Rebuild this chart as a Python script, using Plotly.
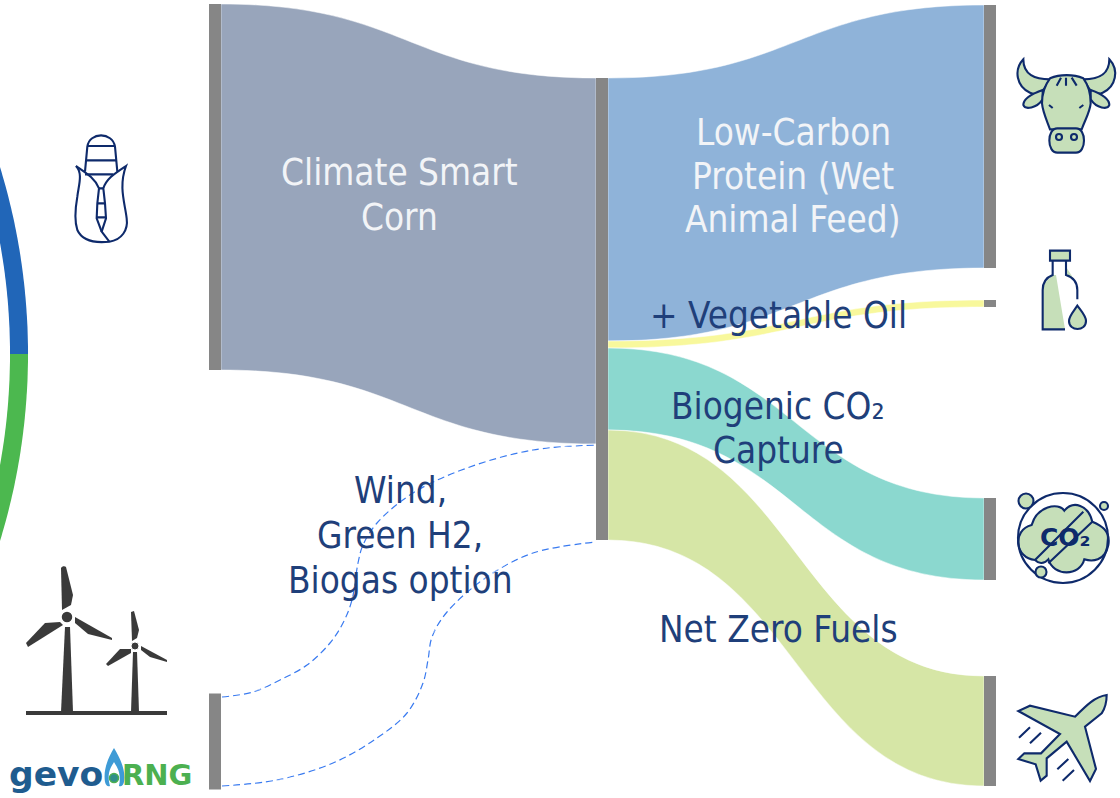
import re
import numpy as np
import plotly.graph_objects as go

WIDTH, HEIGHT = 1120, 798

# Flow network: feedstocks -> plant -> products
node_names = ["Climate Smart Corn", "Wind, Green H2, Biogas", "Plant",
              "Low-Carbon Protein", "Vegetable Oil", "Biogenic CO2", "Net Zero Fuels"]
node_x_px = [215, 215, 602, 990, 990, 990, 990]
node_y_px = [187, 741.5, 309, 136.5, 303.5, 539, 731]
link_source = [0, 1, 2, 2, 2, 2]
link_target = [2, 2, 3, 4, 5, 6]
link_value = [366, 96, 263, 7, 82, 110]
link_colors = ["#98A5BB", "rgba(0,0,0,0)", "#8FB3D9", "#F8F89C", "#8BD8CF", "#D6E6A6"]

# Dashed outline of the optional renewable-energy flow
wind_upper_x = [222, 253, 280, 307, 330, 343, 352, 358, 363, 377, 413, 467, 533, 596]
wind_upper_y = [697, 692, 680, 665, 643, 623, 600, 563, 545, 523, 493, 468, 450, 445]
wind_lower_x = [222, 277, 333, 377, 407, 423, 428, 432, 447, 487, 533, 596]
wind_lower_y = [786, 780, 763, 738, 713, 683, 660, 637, 612, 577, 553, 542]

NAVY = "#0E2A6B"
TEXT_NAVY = "#1F3F7A"
LEAF = "#C6DFB9"
FONT = "DejaVu Sans Condensed, Tahoma, Verdana, sans-serif"


def place(d, ox, oy, s=3.0):
    """Shift an SVG path drawn at s times size to its place on the page."""
    idx = [0]

    def repl(m):
        v = float(m.group(0))
        i = idx[0]
        idx[0] += 1
        return f"{(v / s + (oy if i % 2 else ox)):.2f}"

    return re.sub(r"-?\d+\.?\d*", repl, d)


def icon(d, ox, oy, fill=None, line=NAVY, width=2.1, s=3.0):
    return dict(type="path", path=place(d, ox, oy, s), xref="x", yref="y",
                fillcolor=fill if fill else "rgba(0,0,0,0)",
                line=dict(color=line, width=width) if line else dict(width=0),
                layer="above")


def circle(cx, cy, r, fill=None, line=NAVY, width=2.1):
    return dict(type="circle", x0=cx - r, x1=cx + r, y0=cy - r, y1=cy + r,
                xref="x", yref="y", fillcolor=fill if fill else "rgba(0,0,0,0)",
                line=dict(color=line, width=width) if line else dict(width=0),
                layer="above")


def ring_segment(a0, a1, cx=-610, cy=354, r_out=638, r_in=620, n=60):
    a = np.radians(np.linspace(a0, a1, n))
    xo, yo = cx + r_out * np.cos(a), cy + r_out * np.sin(a)
    xi, yi = cx + r_in * np.cos(a[::-1]), cy + r_in * np.sin(a[::-1])
    pts = list(zip(np.r_[xo, xi], np.r_[yo, yi]))
    return "M" + " L".join(f"{x:.1f},{y:.1f}" for x, y in pts) + " Z"


shapes = []

# Part of the large ring on the left edge
for a0, a1, col in [(-20, 0, "#2166B8"), (0, 20, "#4CB84F")]:
    shapes.append(dict(type="path", path=ring_segment(a0, a1), xref="x", yref="y",
                       fillcolor=col, line=dict(width=0), layer="below"))

# Corn cob
shapes += [
    icon("M255,245 L262,170 C268,125 338,125 345,170 L352,245", 0, 90),
    icon("M262,168 L343,168 M258,211 L350,211 M255,253 L340,253", 0, 90),
    icon("M228,228 C250,250 235,290 232,320 C225,360 222,390 232,420 C250,460 300,458 328,455 "
         "C365,450 385,420 380,385 C375,340 355,290 378,228 C345,250 320,265 310,295 "
         "L315,340 L318,385 L305,425 L328,455", 0, 90),
    icon("M228,228 C260,250 285,265 297,295 L292,340 L290,385 L305,425", 0, 90),
    icon("M297,295 L310,295 M292,340 L315,340 M290,382 L318,382", 0, 90),
]

# Wind turbines
DARK = "#3A3A3A"
for d in [
    "M61,568 C62,566 65,566 66,567 L73,595 L71,605 L62,610 Z",
    "M60,622 L45,623 L26,643 L28,647 L63,625 Z",
    "M75,617 L112,638 L112,640 L88,634 L75,623 Z",
    "M65,627 L70,627 L73,712 L61,712 Z",
    "M131,612 L134,611 L139,630 L137,638 L132,641 Z",
    "M131,649 L120,649 L106,664 L108,666 L131,653 Z",
    "M141,646 L167,660 L167,662 L150,657 L141,650 Z",
    "M133,652 L137,652 L139,712 L131,712 Z",
    "M26,711 L167,711 L167,715 L26,715 Z",
]:
    shapes.append(icon(d, 0, 0, fill=DARK, line=None, s=1.0))
shapes += [circle(67, 617, 6, fill=DARK, line="white", width=1.5),
           circle(135, 646, 4, fill=DARK, line="white", width=1)]

# Flame of the RNG mark
shapes += [
    icon("M114,748 C108,758 103,770 105,782 C106,786 108,787 110,786 C106,772 112,766 114,762 "
         "C116,766 122,772 119,786 C121,787 123,786 124,782 C126,770 120,758 114,748 Z",
         0, 0, fill="#3E9BD6", line=None, s=1.0),
    circle(114, 778, 4.5, fill="#2F8F8A", line="#4CB050", width=1.5),
]

# Cow
shapes += [
    icon("M70,58 C40,90 50,140 90,158 C105,165 118,160 130,150 L150,118 C105,118 70,105 70,58 Z", 1000, 40, fill=LEAF),
    icon("M328,58 C358,90 348,140 308,158 C293,165 282,160 270,150 L250,118 C295,118 328,105 328,58 Z", 1000, 40, fill=LEAF),
    icon("M128,150 C100,160 70,175 70,195 C75,210 110,205 128,178 Z", 1000, 40, fill=LEAF),
    icon("M272,150 C300,160 328,175 328,195 C323,210 290,205 272,178 Z", 1000, 40, fill=LEAF),
    icon("M150,115 C180,102 220,102 250,115 C265,135 272,160 272,190 C270,215 255,240 245,268 "
         "L150,268 C140,240 128,215 126,190 C126,160 135,135 150,115 Z", 1000, 40, fill=LEAF),
    icon("M172,265 L228,265 C260,265 260,338 228,338 L172,338 C140,338 140,265 172,265 Z", 1000, 40, fill=LEAF),
    icon("M183,113 L170,137 M198,113 L198,137 M215,113 L230,137 M147,195 L158,204 M250,195 L238,204", 1000, 40),
    circle(1059, 137, 3), circle(1074, 137, 3),
]

# Bottle with a drop
shapes += [
    icon("M68,135 L98,105 L108,105 L135,268 L68,268 Z M138,80 L160,115 L138,105 Z", 1020, 240, fill=LEAF, line=None),
    icon("M90,32 L150,32 L150,62 L90,62 Z", 1020, 240, fill=LEAF),
    icon("M98,62 L98,105 C80,112 68,125 68,150 L68,268 L135,268 M138,62 L138,105 "
         "C160,112 172,125 172,150 L172,178", 1020, 240),
    icon("M172,197 C160,215 147,228 147,243 C147,275 198,275 198,243 C198,228 185,215 172,197 Z", 1020, 240, fill=LEAF),
]

# Crossed-out CO2 cloud
shapes += [
    icon("M90,240 C30,235 20,150 80,135 C95,80 160,65 178,92 C205,60 250,75 262,125 "
         "C285,135 318,150 310,195 C300,245 260,245 238,238 C225,290 145,290 130,238 "
         "C115,255 100,250 90,240 Z", 1005, 480, fill=LEAF),
    circle(1063, 538, 45),
    icon("M90,240 L235,95 M130,250 L262,125", 1005, 480),
    circle(1026, 501, 7.5, fill=LEAF), circle(1104, 506, 4, fill=LEAF), circle(1041, 572, 5.5, fill=LEAF),
]

# Aeroplane
shapes += [
    icon("M305,30 C270,35 245,60 210,95 L75,62 L40,78 L165,147 L108,205 L58,205 L40,222 L92,238 "
         "L107,287 L125,272 L125,220 L185,170 L255,288 L273,252 L240,125 L290,85 C300,70 305,50 305,30 Z",
         1005, 685, fill=LEAF),
    icon("M42,158 L75,127 M75,175 L108,143 M157,253 L190,222 M173,287 L207,255", 1005, 685),
]


def label(text, x, y, color, size=36.6, family=FONT):
    return dict(text=text, x=x, y=y, xref="x", yref="y", showarrow=False, align="center",
                xanchor="center", yanchor="middle",
                font=dict(family=family, size=size, color=color))


WHITE = "#F2F4F7"
annotations = [
    label("Climate Smart", 399, 172, WHITE),
    label("Corn", 399, 217, WHITE),
    label("Low-Carbon", 793, 132, WHITE),
    label("Protein (Wet", 793, 176, WHITE),
    label("Animal Feed)", 793, 219, WHITE),
    label("+ Vegetable Oil", 778, 315, TEXT_NAVY),
    label("Biogenic CO₂", 778, 406, TEXT_NAVY),
    label("Capture", 778, 450, TEXT_NAVY),
    label("Wind,", 400, 490, TEXT_NAVY),
    label("Green H2,", 400, 535, TEXT_NAVY),
    label("Biogas option", 400, 580, TEXT_NAVY),
    label("Net Zero Fuels", 778, 629, TEXT_NAVY),
    label("<b>CO₂</b>", 1065, 537, NAVY, size=25, family="DejaVu Sans, sans-serif"),
    label("<b>gevo</b>", 56, 774, "#1F5C8F", size=34.5, family="DejaVu Sans, sans-serif"),
    label("<b>RNG</b>", 157, 775, "#4CB050", size=29, family="DejaVu Sans, sans-serif"),
]

fig = go.Figure()
for wx, wy in [(wind_upper_x, wind_upper_y), (wind_lower_x, wind_lower_y)]:
    fig.add_trace(go.Scatter(x=wx, y=wy, mode="lines", hoverinfo="skip",
                             line=dict(color="#3A7BF0", width=1.2, dash="7px,4px", shape="spline"),
                             showlegend=False))
fig.add_trace(go.Sankey(
    arrangement="fixed",
    hoverinfo="skip",
    node=dict(
        label=[""] * len(node_names),
        customdata=node_names,
        x=[v / WIDTH for v in node_x_px],
        y=[v / HEIGHT for v in node_y_px],
        thickness=12,
        pad=112,
        color="#868686",
        line=dict(width=0),
    ),
    link=dict(source=link_source, target=link_target, value=link_value,
              color=link_colors, line=dict(color="white", width=0.5)),
))

fig.update_layout(
    width=WIDTH, height=HEIGHT,
    margin=dict(l=0, r=0, t=0, b=0),
    paper_bgcolor="white", plot_bgcolor="rgba(0,0,0,0)",
    xaxis=dict(range=[0, WIDTH], visible=False, fixedrange=True),
    yaxis=dict(range=[HEIGHT, 0], visible=False, fixedrange=True),
    shapes=shapes,
    annotations=annotations,
    showlegend=False,
)
fig.write_html("out.html", config=dict(displayModeBar=False))
